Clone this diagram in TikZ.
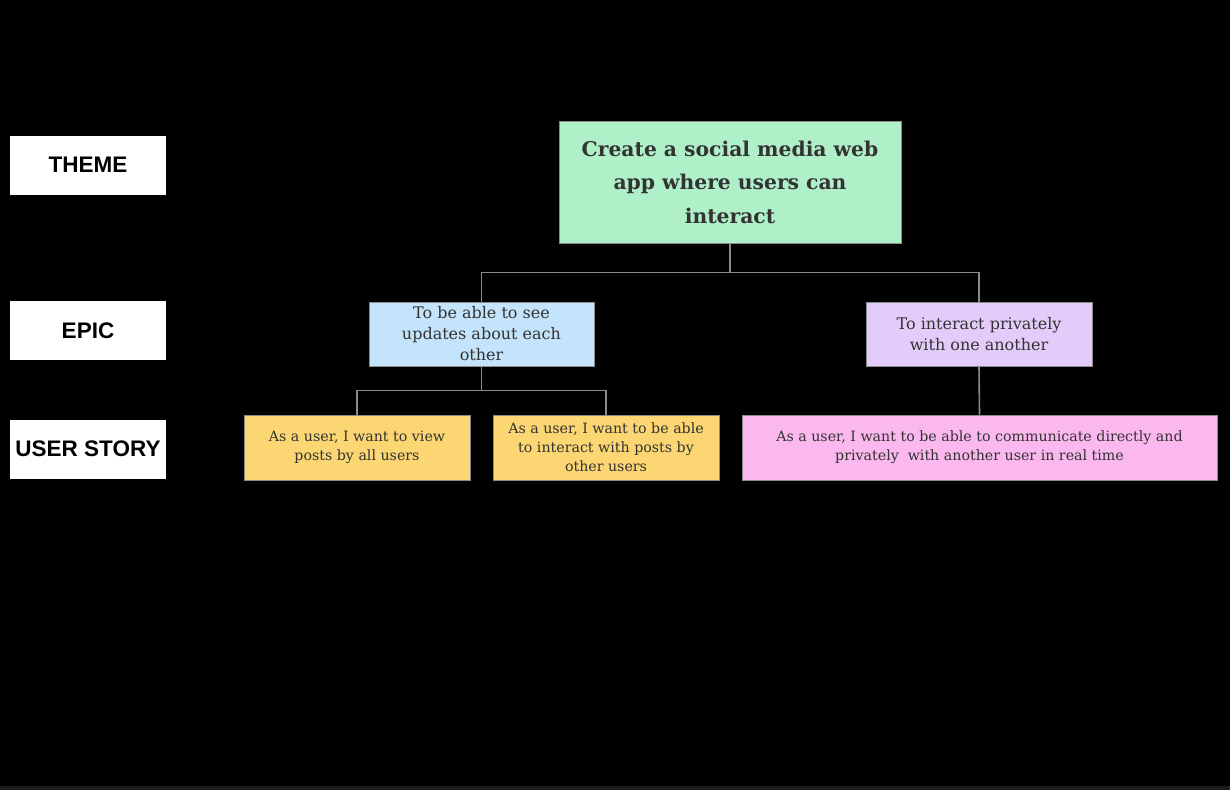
\documentclass[tikz,border=0pt]{standalone}
\usepackage{fontspec}
\setmainfont{DejaVu Serif}
\newfontfamily\labelfont{Liberation Sans}
\usetikzlibrary{positioning}
\definecolor{themefill}{HTML}{B0F0C8}
\definecolor{epicfill}{HTML}{C4E4FB}
\definecolor{privfill}{HTML}{E4CCFA}
\definecolor{storyfill}{HTML}{FBD672}
\definecolor{chatfill}{HTML}{FBB8EE}
\definecolor{boxtext}{HTML}{333333}
\definecolor{linkgray}{HTML}{8A8A8A}
\tikzset{
  levelbox/.style={fill=white,minimum width=156pt,minimum height=59pt,inner sep=0pt,
    font=\labelfont\bfseries\fontsize{22.5}{24}\selectfont},
  card/.style={draw=linkgray,line width=0.8pt,text=boxtext,align=center,inner sep=0pt},
  link/.style={draw=linkgray,line width=1.6pt}
}
\begin{document}
\begin{tikzpicture}[x=1pt,y=-1pt]
\fill[black] (0,0) rectangle (1230,790);
\fill[black!89] (0,786) rectangle (1230,790);
\useasboundingbox (0,0) rectangle (1230,790);
\node[levelbox] (themelbl) at (88,165) {THEME};
\node[levelbox] (epiclbl) at (88,330.5) {EPIC};
\node[levelbox] (storylbl) at (88,449) {USER STORY};
\node[card,fill=themefill,minimum width=342pt,minimum height=122pt,
  font=\bfseries\fontsize{20.3}{33.5}\selectfont] (theme) at (730,182)
  {Create a social media web\\app where users can\\interact};
\node[card,fill=epicfill,minimum width=225pt,minimum height=64pt,
  font=\fontsize{16}{21}\selectfont] (epicsee) at (481.5,334)
  {To be able to see\\updates about each\\other};
\node[card,fill=privfill,minimum width=226pt,minimum height=64pt,
  font=\fontsize{16}{21}\selectfont] (epicchat) at (979,334)
  {To interact privately\\with one another};
\node[card,fill=storyfill,minimum width=226pt,minimum height=65pt,
  font=\fontsize{14.2}{19}\selectfont] (storyview) at (357,447.5)
  {As a user, I want to view\\posts by all users};
\node[card,fill=storyfill,minimum width=226pt,minimum height=65pt,
  font=\fontsize{14.2}{19}\selectfont] (storypost) at (606,447.5)
  {As a user, I want to be able\\to interact with posts by\\other users};
\node[card,fill=chatfill,minimum width=475pt,minimum height=65pt,
  font=\fontsize{14.2}{19}\selectfont] (storychat) at (979.5,447.5)
  {As a user, I want to be able to communicate directly and\\privately\ \ with another user in real time};
\draw[link] (theme.south) -- ++(0,29) -| (epicsee.north);
\draw[link] (theme.south) -- ++(0,29) -| (epicchat.north);
\draw[link] (epicsee.south) -- ++(0,24) -| (storyview.north);
\draw[link] (epicsee.south) -- ++(0,24) -| (storypost.north);
\draw[link] (epicchat.south) -- (storychat.north);
\end{tikzpicture}
\end{document}
